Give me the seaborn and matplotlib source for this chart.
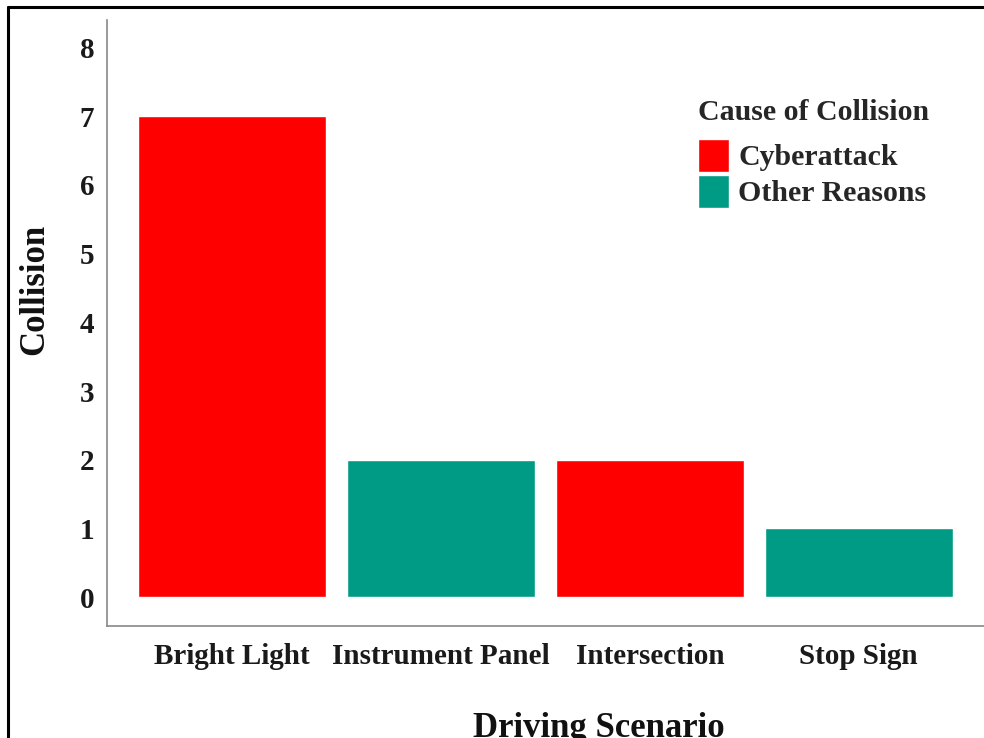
import pandas as pd
import numpy as np
import seaborn as sns
import matplotlib.pyplot as plt
from matplotlib.lines import Line2D

# dados
cenarios = ['Bright Light', 'Instrument Panel', 'Intersection', 'Stop Sign']
colisoes = [7, 2, 2, 1]
causas = ['Cyberattack', 'Other Reasons', 'Cyberattack', 'Other Reasons']
ordem_causas = ['Cyberattack', 'Other Reasons']
cores = {'Cyberattack': '#FF0000', 'Other Reasons': '#009B85'}

dataset = pd.DataFrame({'Cenario': cenarios, 'Colisao': colisoes, 'Causa': causas})

sns.set_style('white')
plt.rcParams['font.family'] = ['Liberation Serif', 'DejaVu Serif']
plt.rcParams['font.weight'] = 'bold'

fig = plt.figure(figsize=(9.84, 7.38), dpi=100)
ax = fig.add_axes([0.1087, 0.1518, 0.8913, 0.8211])

sns.barplot(data=dataset, x='Cenario', y='Colisao', hue='Causa',
            hue_order=ordem_causas, palette=cores, dodge=False,
            width=0.9, saturation=1, ax=ax)

ax.set_xlim(-0.6, 3.6)
ax.set_ylim(-0.42, 8.4)
ax.set_yticks(range(0, 9))

for lado in ['top', 'right']:
    ax.spines[lado].set_visible(False)
for lado in ['left', 'bottom']:
    ax.spines[lado].set_color('#888888')
    ax.spines[lado].set_linewidth(1.2)

ax.tick_params(axis='both', length=4, color='#888888', labelsize=21, pad=8)
ax.tick_params(axis='y', pad=5)
for lbl in ax.get_xticklabels() + ax.get_yticklabels():
    lbl.set_fontweight('bold')
    lbl.set_color('#1a1a1a')

ax.set_xlabel('Driving Scenario', fontsize=25, fontweight='bold', color='#111111')
ax.set_ylabel('Collision', fontsize=25, fontweight='bold', color='#111111')
ax.xaxis.set_label_coords(0.561, -0.142)
ax.yaxis.set_label_coords(-0.064, 0.555)

leg = ax.legend(title='Cause of Collision', loc='upper left',
                bbox_to_anchor=(0.66, 0.889), frameon=False,
                fontsize=21.5, title_fontsize=21.5, handlelength=1.05,
                handleheight=1.35, labelspacing=0.08, handletextpad=0.3,
                borderaxespad=0)
leg.get_title().set_fontweight('bold')
leg._legend_box.align = 'left'
leg._legend_box.sep = 9

# moldura (so esquerda e topo visiveis no recorte)
fig.add_artist(Line2D([0.0081, 0.0081], [0.9905, 0.0], transform=fig.transFigure,
                      color='black', linewidth=2.2))
fig.add_artist(Line2D([0.0081, 1.0], [0.9905, 0.9905], transform=fig.transFigure,
                      color='black', linewidth=2.2))

plt.savefig('out.png', dpi=100)
